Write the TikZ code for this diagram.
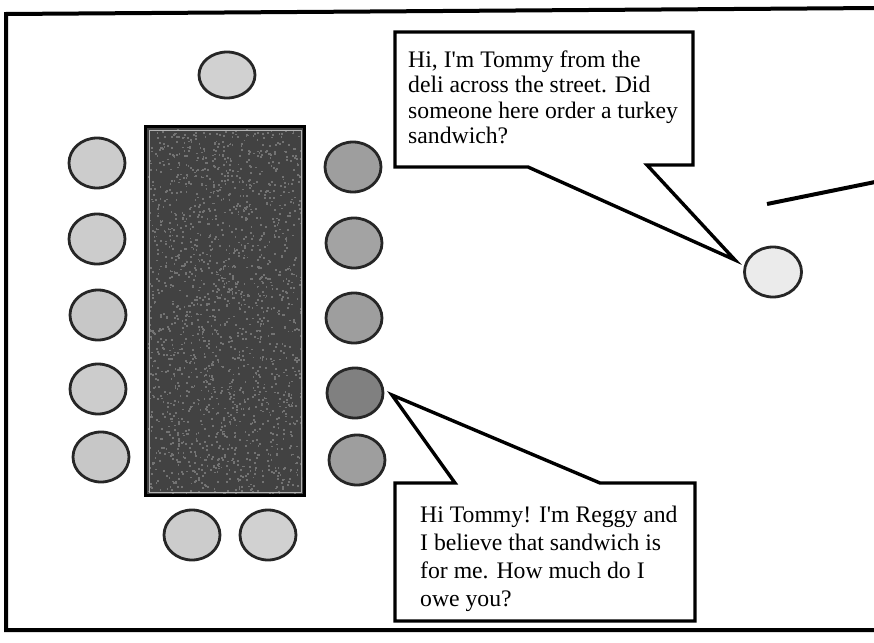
\documentclass[tikz,border=0pt]{standalone}
\usepackage{fontspec}
\setmainfont{Liberation Serif}[Ligatures=TeXOff]
\usetikzlibrary{shapes.geometric}
\begin{document}
\begin{tikzpicture}[x=1pt,y=-1pt,
  chair/.style={ellipse,draw=black!85,line width=2.8pt,minimum width=56pt,minimum height=50pt,inner sep=0pt},
  bubble/.style={draw=black,line width=3.4pt,fill=white,line join=miter},
  saytext/.style={anchor=north west,align=left,inner sep=0pt,font=\fontsize{23.7}{25.5}\selectfont}]
\useasboundingbox (0,0) rectangle (874,642);
\fill[white] (0,0) rectangle (874,642);
% frame
\draw[line width=4pt,line join=miter] (880,8) -- (6,14) -- (6,630) -- (880,630);
% table
\node[draw=black,line width=3pt,fill=black!74,minimum width=159pt,minimum height=369pt,inner sep=0pt] (table) at (225,311) {};
\pgfmathsetseed{7}
\begin{scope}
\clip (148,129) rectangle (302,493);
\foreach \i in {1,...,1800}{
  \pgfmathsetmacro{\px}{148+154*rnd}
  \pgfmathsetmacro{\py}{129+364*rnd}
  \fill[black!55] (\px,\py) rectangle ++(1.8,1.8);
}
\end{scope}
\draw[white!70!black,line width=0.8pt] (149,130) rectangle (301,492);
% chairs
\node[chair,fill=black!18,minimum height=46pt] (top) at (227,75) {};
\node[chair,fill=black!20] (l1) at (97,163) {};
\node[chair,fill=black!20] (l2) at (97,239) {};
\node[chair,fill=black!22] (l3) at (98,315) {};
\node[chair,fill=black!20] (l4) at (98,389) {};
\node[chair,fill=black!22] (l5) at (101,457) {};
\node[chair,fill=black!38] (r1) at (353,167) {};
\node[chair,fill=black!36] (r2) at (354,243) {};
\node[chair,fill=black!38] (r3) at (354,318) {};
\node[chair,fill=black!50] (r4) at (355,393) {};
\node[chair,fill=black!38] (r5) at (357,460) {};
\node[chair,fill=black!20] (b1) at (192,535) {};
\node[chair,fill=black!18] (b2) at (268,535) {};
\node[chair,fill=black!8,minimum width=57pt,minimum height=50pt] (tommy) at (773,272) {};
% wall line
\coordinate (w1) at (767,204);
\coordinate (w2) at (880,181);
\draw[line width=4pt] (w1) -- (w2);
% top bubble
\coordinate (tipT) at (735,260);
\draw[bubble] (395,32) -- (693,32) -- (693,165) -- (647,165) -- (tipT) -- (528,167) -- (395,167) -- cycle;
\node[saytext] (say1) at (408,50.5) {Hi, I'm Tommy from the\\deli across the street. Did\\someone here order a turkey\\sandwich?};
% bottom bubble
\coordinate (tipB) at (392,395);
\draw[bubble] (395,483) -- (455,483) -- (tipB) -- (600,483) -- (695,483) -- (695,621) -- (395,621) -- cycle;
\node[saytext,font=\fontsize{23.7}{28}\selectfont] (say2) at (420,505.5) {Hi Tommy! I'm Reggy and\\I believe that sandwich is\\for me. How much do I\\owe you?};
\end{tikzpicture}
\end{document}
